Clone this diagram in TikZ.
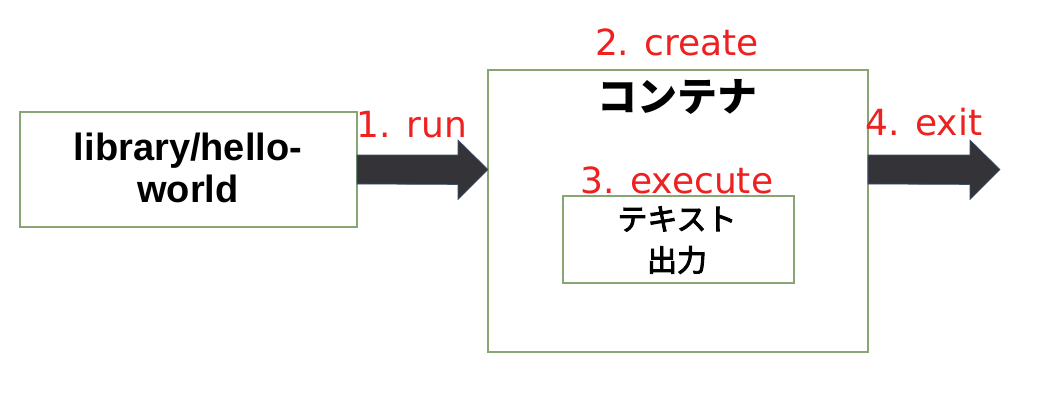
\documentclass[tikz,border=0pt]{standalone}
\usepackage{fontspec}
\setmainfont{Liberation Sans}
\newfontfamily\jpfont{Noto Sans CJK JP}
\newfontfamily\jpmed[FakeBold=3]{Noto Sans CJK JP}
\newfontfamily\redfont{DejaVu Sans}
\usetikzlibrary{calc}
\definecolor{boxgreen}{RGB}{137,165,115}
\definecolor{lblred}{RGB}{238,32,32}
\definecolor{arrowfill}{RGB}{52,52,56}
\definecolor{arrowedge}{RGB}{60,82,112}
\tikzset{
  box/.style={draw=boxgreen, line width=1.2pt, fill=white, inner sep=0pt, outer sep=0pt},
  blk/.style={inner sep=0pt, font=\bfseries\fontsize{38}{40}\selectfont},
  jpbig/.style={inner sep=0pt, font=\jpfont\bfseries\fontsize{40}{44}\selectfont},
  jpsmall/.style={inner sep=0pt, font=\jpmed\fontsize{30}{34}\selectfont},
  lbl/.style={inner sep=0pt, text=lblred, font=\redfont\fontsize{36}{40}\selectfont},
  blockarrow/.style={fill=arrowfill, draw=arrowedge, line width=0.6pt, line join=miter}
}
\begin{document}
\begin{tikzpicture}[x=1pt,y=-1pt]
\useasboundingbox[fill=white] (0,0) rectangle (1042,407);
% boxes
\node[box, minimum width=337pt, minimum height=115pt] (lib) at (188.5,169.5) {};
\node[box, minimum width=380pt, minimum height=282pt] (cont) at (678,211) {};
\node[box, minimum width=231pt, minimum height=87pt] (inner) at (678.5,239.5) {};
% texts
\node[blk, anchor=base] (libt1) at (188,160) {library/hello-};
\node[blk, anchor=base] (libt2) at (188,202) {world};
\node[jpbig] (contt) at (677,97) {コンテナ};
\node[jpsmall] (innt1) at (677,219) {テキスト};
\node[jpsmall] (innt2) at (677,260) {出力};
% labels
\node[lbl, anchor=base] (l1) at (412,137) {1. run};
\node[lbl, anchor=base] (l2) at (677,55) {2. create};
\node[lbl, anchor=base] (l3) at (677,193) {3. execute};
\node[lbl, anchor=base] (l4) at (924,135) {4. exit};
% arrows
\coordinate (exitpt) at (1000,169.5);
\draw[blockarrow] ($(lib.east)+(0,-14.5)$) -- ++(101,0) -- ++(0,-15) -- (cont.west |- lib.east)
  -- ($(lib.east)+(101,30)$) -- ++(0,-15) -- ($(lib.east)+(0,14.5)$) -- cycle;
\draw[blockarrow] ($(cont.east |- lib.east)+(0,-14.5)$) -- ($(exitpt)+(-30,-14.5)$) -- ++(0,-15) -- (exitpt)
  -- ($(exitpt)+(-30,30)$) -- ++(0,-15) -- ($(cont.east |- lib.east)+(0,14.5)$) -- cycle;
\end{tikzpicture}
\end{document}
